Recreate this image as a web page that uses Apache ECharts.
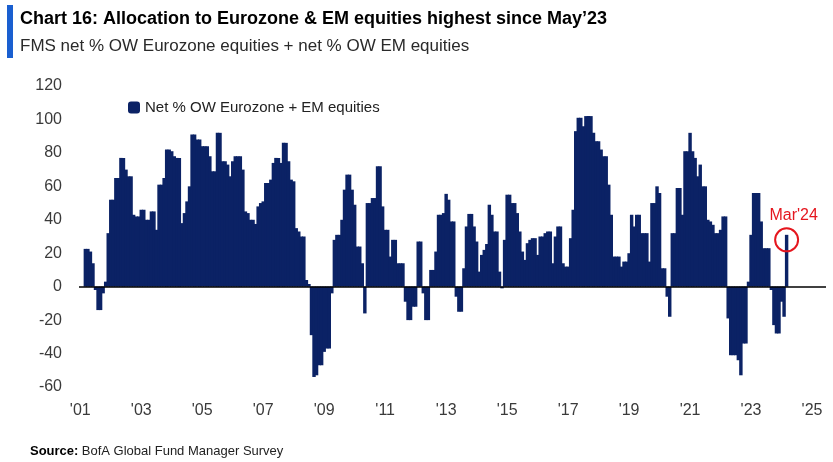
<!DOCTYPE html>
<html><head><meta charset="utf-8">
<script src="https://cdn.jsdelivr.net/npm/echarts@6/dist/echarts.min.js"></script>
<style>html,body{margin:0;padding:0;background:#fff}#c{width:833px;height:462px}</style>
</head><body><div id="c"></div>
<script>
// Monthly categories Jan 2001 .. Jun 2025 (axis extent)
const startYear = 2001, endYear = 2025, endMonth = 6;
const categories = [];
for (let y = startYear; y <= endYear; y++) {
  for (let m = 1; m <= 12; m++) {
    if (y === endYear && m > endMonth) break;
    categories.push(y + '-' + String(m).padStart(2, '0'));
  }
}

// Net % OW Eurozone + net % OW EM equities, by year (Jan..Dec)
const v2001 = [null, null, 22.6, 22.6, 21, 14, -2, -14, -14, -4, 3, 32];
const v2002 = [52, 52, 65, 65, 77, 77, 70, 66, 66, 43, 42, 42];
const v2003 = [46, 46, 40, 40, 45, 45, 34, 61, 61, 65, 82, 82];
const v2004 = [81, 78, 77, 77, 38, 44, 51, 60, 91, 91, 88, 88];
const v2005 = [84, 84, 84, 78, 69, 69, 92, 92, 75, 75, 73, 66];
const v2006 = [75, 78, 78, 78, 70, 45, 44, 40, 40, 37.5, 48, 50];
const v2007 = [51, 62, 62, 64, 74, 77, 77, 74, 86, 86, 75, 64];
const v2008 = [63, 35, 33, 30, 30, 4, 1.6, -29, -54, -53, -47, -47];
const v2009 = [-39, -37, -37, -4, 28, 31, 31, 40, 58, 67, 67, 58];
const v2010 = [49, 24, 24, 14, -16, 50, 50, 53, 53, 72, 72, 48];
const v2011 = [34, 34, 18, 28, 28, 14, 14, 14, -9, -20, -20, -12];
const v2012 = [-12, 27, 27, -4, -20, -20, 10, 10, 21, 43, 43, 44];
const v2013 = [55.5, 52, 39, 39, -6, -15, -15, 11, 36, 43.5, 43.5, 36];
const v2014 = [27, 9, 19, 22, 25.5, 49, 43, 33, 33, 9, -1, 28];
const v2015 = [55, 55, 50, 50, 44, 33, 21, 16, 26, 28, 29, 29];
const v2016 = [19, 30, 30, 32, 33, 33, 14, 30, 36, 36, 14, 12];
const v2017 = [12, 29, 46, 93, 101, 101, 96, 102, 102, 102, 92, 87];
const v2018 = [87, 82, 78, 78, 61, 43, 18, 18, 18, 12, 15, 15];
const v2019 = [20, 43, 36, 43, 43, 32, 32, 32, 15, 50, 50, 60];
const v2020 = [56, 11, 11, -6, -18, 32, 32, 59, 59, 43, 81, 81];
const v2021 = [92, 81, 77, 66, 73, 60, 60, 40, 39, 37, 32, 32];
const v2022 = [34, 42, 42, -19, -41, -41, -41, -44, -53, -34, -34, 3];
const v2023 = [31, 56, 56, 56, 39, 23, 23, 23, -2, -23, -28, -28];
const v2024 = [-9, -18, 31];

const values = [].concat(v2001, v2002, v2003, v2004, v2005, v2006, v2007, v2008,
  v2009, v2010, v2011, v2012, v2013, v2014, v2015, v2016, v2017, v2018, v2019,
  v2020, v2021, v2022, v2023, v2024);

const tickYears = [2001, 2003, 2005, 2007, 2009, 2011, 2013, 2015, 2017, 2019, 2021, 2023, 2025];
const tickLabels = ["'01", "'03", "'05", "'07", "'09", "'11", "'13", "'15", "'17", "'19", "'21", "'23", "'25"];
const yTicks = { min: -60, max: 120, step: 20 };

const seriesName = 'Net % OW Eurozone + EM equities';
const monthNames = ['Jan','Feb','Mar','Apr','May','Jun','Jul','Aug','Sep','Oct','Nov','Dec'];
const lastIdx = values.length - 1;
const lastCat = categories[lastIdx];
const lastLabel = monthNames[+lastCat.slice(5) - 1] + "'" + lastCat.slice(2, 4);

const NAVY = '#0b2265';
const RED = '#e5161e';
const FONT = '"Liberation Sans", Arial, sans-serif';

const chart = echarts.init(document.getElementById('c'), null, { renderer: 'canvas' });
chart.setOption({
  animation: false,
  backgroundColor: '#fff',
  grid: { left: 79, right: 7, top: 86, bottom: 75, containLabel: false },
  legend: {
    left: 123, top: 95, itemWidth: 12, itemHeight: 12, icon: 'roundRect',
    textStyle: { fontSize: 15, color: '#222', fontFamily: FONT },
    data: [seriesName]
  },
  xAxis: {
    type: 'category', data: categories,
    axisLine: { show: false, onZero: false },
    axisTick: { show: false },
    splitLine: { show: false },
    axisLabel: {
      interval: (i, v) => v.slice(5) === '01' && tickYears.includes(+v.slice(0, 4)),
      formatter: v => tickLabels[tickYears.indexOf(+v.slice(0, 4))] || '',
      fontSize: 16, color: '#3a3a3a', fontFamily: FONT, margin: 16
    }
  },
  yAxis: {
    type: 'value', min: yTicks.min, max: yTicks.max, interval: yTicks.step,
    axisLine: { show: false }, axisTick: { show: false }, splitLine: { show: false },
    axisLabel: { fontSize: 16, color: '#3a3a3a', fontFamily: FONT, margin: 17 }
  },
  series: [{
    name: seriesName, type: 'bar', data: values,
    barWidth: '135%',
    itemStyle: { color: NAVY },
    markLine: {
      silent: true, symbol: 'none', label: { show: false },
      lineStyle: { color: '#000', width: 1.5, type: 'solid' },
      data: [{ yAxis: 0 }]
    },
    markPoint: {
      silent: true,
      data: [{
        coord: [lastCat, values[lastIdx]],
        symbol: 'circle', symbolSize: 23, symbolOffset: [0, 5],
        itemStyle: { color: 'rgba(0,0,0,0)', borderColor: RED, borderWidth: 2 },
        label: { show: true, position: 'top', distance: 4, offset: [7, 0],
          formatter: lastLabel, color: RED, fontSize: 16, fontFamily: FONT }
      }]
    }
  }],
  graphic: [
    { type: 'rect', shape: { x: 7, y: 5, width: 6, height: 53 }, style: { fill: '#1a5fd0' } },
    { type: 'text', left: 20, top: 10, style: { text: 'Chart 16: Allocation to Eurozone & EM equities highest since May\u201923',
      font: 'bold 18px "Liberation Sans", Arial, sans-serif', fill: '#000' } },
    { type: 'text', left: 20, top: 38, style: { text: 'FMS net % OW Eurozone equities + net % OW EM equities',
      font: '17px "Liberation Sans", Arial, sans-serif', fill: '#2a2a2a' } },
    { type: 'text', left: 30, top: 445, style: {
      text: '{b|Source:} {r|BofA Global Fund Manager Survey}',
      rich: { b: { fontWeight: 'bold', fontSize: 13, fontFamily: FONT, fill: '#000' },
              r: { fontSize: 13, fontFamily: FONT, fill: '#222' } } } }
  ]
});
</script></body></html>
